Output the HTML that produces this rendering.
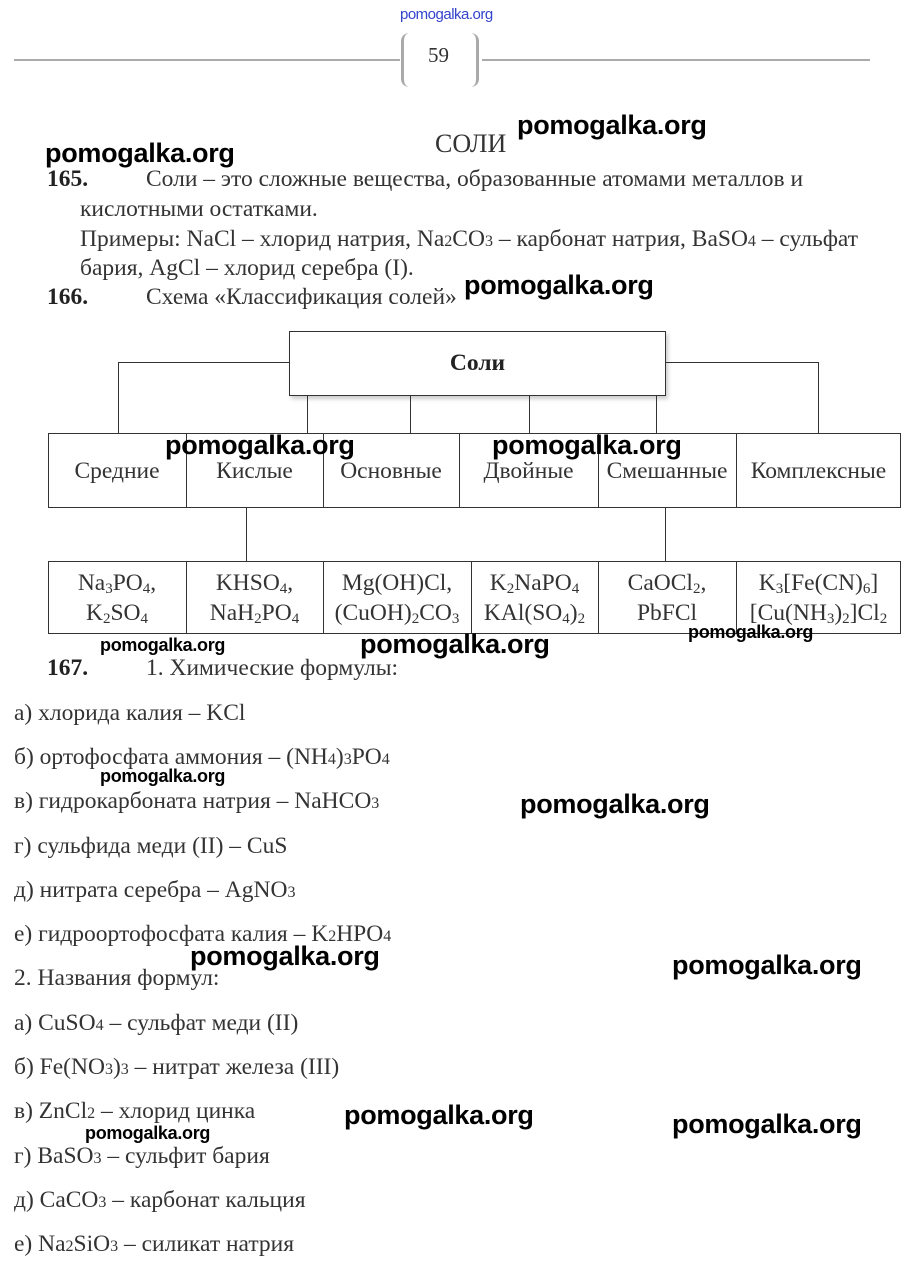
<!DOCTYPE html>
<html><head><meta charset="utf-8"><style>
body{margin:0;width:914px;height:1270px;background:#fff;position:relative;overflow:hidden;font-family:"Liberation Serif",serif;color:#333}
.t{position:absolute;white-space:nowrap;font-size:23.5px;line-height:26px}
.t s{font-size:16px;text-decoration:none}
.w{position:absolute;white-space:nowrap;font-family:"Liberation Sans",sans-serif;font-weight:bold;color:#000;font-size:27px;line-height:30px;letter-spacing:-0.3px}
.ws{font-size:18px;line-height:20px}
.b{font-weight:bold;color:#222}
.box{position:absolute;border:1px solid #333;box-sizing:border-box}
.l{position:absolute;background:#333}
.c{position:absolute;text-align:center;font-size:23.5px;line-height:30px;color:#333;white-space:nowrap}
sub{font-size:15px;vertical-align:-3px;line-height:0}
</style></head><body>
<div class="t" style="left:400px;top:2px;font-family:'Liberation Sans',sans-serif;font-size:15px;color:#3344cc;letter-spacing:-0.5px">pomogalka.org</div>
<div class="l" style="left:14px;top:59px;width:386px;height:2px;background:#aaa"></div>
<div class="l" style="left:482px;top:59px;width:388px;height:2px;background:#aaa"></div>
<div style="position:absolute;left:401px;top:33px;width:78px;height:54px;border-left:3px solid #aaa;border-right:3px solid #aaa;border-radius:8px;box-sizing:border-box"></div>
<div class="t" style="left:428px;top:42px;font-size:21px">59</div>

<div class="t" style="left:435px;top:130px;font-size:26px;line-height:28px">СОЛИ</div>
<div class="w" style="left:517px;top:110px">pomogalka.org</div>
<div class="w" style="left:45px;top:138px">pomogalka.org</div>
<div class="t b" style="left:47px;top:166px">165.</div>
<div class="t" style="left:146px;top:166px">Соли – это сложные вещества, образованные атомами металлов и</div>
<div class="t" style="left:80px;top:196px">кислотными остатками.</div>
<div class="t" style="left:80px;top:226px">Примеры: NaCl – хлорид натрия, Na<s>2</s>CO<s>3</s> – карбонат натрия, BaSO<s>4</s> – сульфат</div>
<div class="t" style="left:80px;top:255px">бария, AgCl – хлорид серебра (I).</div>
<div class="t b" style="left:47px;top:284px">166.</div>
<div class="t" style="left:146px;top:284px">Схема «Классификация солей»</div>
<div class="w" style="left:464px;top:270px">pomogalka.org</div>

<!-- diagram -->
<div class="box" style="left:289px;top:331px;width:377px;height:65px;box-shadow:2px 3px 4px #ccc"></div>
<div class="c b" style="left:289px;top:348px;width:377px;font-weight:bold;color:#222">Соли</div>
<div class="l" style="left:118px;top:362px;width:172px;height:1px"></div>
<div class="l" style="left:118px;top:362px;width:1px;height:71px"></div>
<div class="l" style="left:665px;top:362px;width:153px;height:1px"></div>
<div class="l" style="left:818px;top:362px;width:1px;height:71px"></div>
<div class="l" style="left:307px;top:395px;width:1px;height:38px"></div>
<div class="l" style="left:410px;top:395px;width:1px;height:38px"></div>
<div class="l" style="left:529px;top:395px;width:1px;height:38px"></div>
<div class="l" style="left:656px;top:395px;width:1px;height:38px"></div>

<div class="box" style="left:48px;top:433px;width:853px;height:75px"></div>
<div class="l" style="left:186px;top:433px;width:1px;height:74px"></div>
<div class="l" style="left:323px;top:433px;width:1px;height:74px"></div>
<div class="l" style="left:459px;top:433px;width:1px;height:74px"></div>
<div class="l" style="left:598px;top:433px;width:1px;height:74px"></div>
<div class="l" style="left:736px;top:433px;width:1px;height:74px"></div>
<div class="c" style="left:48px;top:456px;width:138px">Средние</div>
<div class="c" style="left:186px;top:456px;width:137px">Кислые</div>
<div class="c" style="left:323px;top:456px;width:136px">Основные</div>
<div class="c" style="left:459px;top:456px;width:139px">Двойные</div>
<div class="c" style="left:598px;top:456px;width:138px">Смешанные</div>
<div class="c" style="left:736px;top:456px;width:165px">Комплексные</div>
<div class="w" style="left:165px;top:430px">pomogalka.org</div>
<div class="w" style="left:492px;top:430px">pomogalka.org</div>

<div class="l" style="left:246px;top:507px;width:1px;height:54px"></div>
<div class="l" style="left:665px;top:507px;width:1px;height:54px"></div>

<div class="box" style="left:48px;top:561px;width:853px;height:73px"></div>
<div class="l" style="left:186px;top:561px;width:1px;height:72px"></div>
<div class="l" style="left:323px;top:561px;width:1px;height:72px"></div>
<div class="l" style="left:471px;top:561px;width:1px;height:72px"></div>
<div class="l" style="left:598px;top:561px;width:1px;height:72px"></div>
<div class="l" style="left:736px;top:561px;width:1px;height:72px"></div>
<div class="c" style="left:48px;top:568px;width:138px">Na<sub>3</sub>PO<sub>4</sub>,<br>K<sub>2</sub>SO<sub>4</sub></div>
<div class="c" style="left:186px;top:568px;width:137px">KHSO<sub>4</sub>,<br>NaH<sub>2</sub>PO<sub>4</sub></div>
<div class="c" style="left:323px;top:568px;width:148px">Mg(OH)Cl,<br>(CuOH)<sub>2</sub>CO<sub>3</sub></div>
<div class="c" style="left:471px;top:568px;width:127px">K<sub>2</sub>NaPO<sub>4</sub><br>KAl(SO<sub>4</sub>)<sub>2</sub></div>
<div class="c" style="left:598px;top:568px;width:138px">CaOCl<sub>2</sub>,<br>PbFCl</div>
<div class="c" style="left:736px;top:568px;width:165px">K<sub>3</sub>[Fe(CN)<sub>6</sub>]<br>[Cu(NH<sub>3</sub>)<sub>2</sub>]Cl<sub>2</sub></div>
<div class="w ws" style="left:100px;top:635px">pomogalka.org</div>
<div class="w" style="left:360px;top:629px">pomogalka.org</div>
<div class="w ws" style="left:688px;top:622px">pomogalka.org</div>

<div class="t b" style="left:47px;top:655px">167.</div>
<div class="t" style="left:146px;top:655px">1. Химические формулы:</div>
<div class="t" style="left:14px;top:700px">а) хлорида калия – KCl</div>
<div class="t" style="left:14px;top:744px">б) ортофосфата аммония – (NH<s>4</s>)<s>3</s>PO<s>4</s></div>
<div class="w ws" style="left:100px;top:766px">pomogalka.org</div>
<div class="t" style="left:14px;top:788px">в) гидрокарбоната натрия – NaHCO<s>3</s></div>
<div class="w" style="left:520px;top:789px">pomogalka.org</div>
<div class="t" style="left:14px;top:833px">г) сульфида меди (II) – CuS</div>
<div class="t" style="left:14px;top:877px">д) нитрата серебра – AgNO<s>3</s></div>
<div class="t" style="left:14px;top:921px">е) гидроортофосфата калия – K<s>2</s>HPO<s>4</s></div>
<div class="w" style="left:190px;top:941px">pomogalka.org</div>
<div class="t" style="left:14px;top:965px">2. Названия формул:</div>
<div class="w" style="left:672px;top:950px">pomogalka.org</div>
<div class="t" style="left:14px;top:1010px">а) CuSO<s>4</s> – сульфат меди (II)</div>
<div class="t" style="left:14px;top:1054px">б) Fe(NO<s>3</s>)<s>3</s> – нитрат железа (III)</div>
<div class="t" style="left:14px;top:1098px">в) ZnCl<s>2</s> – хлорид цинка</div>
<div class="w" style="left:344px;top:1100px">pomogalka.org</div>
<div class="w" style="left:672px;top:1109px">pomogalka.org</div>
<div class="w ws" style="left:85px;top:1123px">pomogalka.org</div>
<div class="t" style="left:14px;top:1143px">г) BaSO<s>3</s> – сульфит бария</div>
<div class="t" style="left:14px;top:1187px">д) CaCO<s>3</s> – карбонат кальция</div>
<div class="t" style="left:14px;top:1231px">е) Na<s>2</s>SiO<s>3</s> – силикат натрия</div>
</body></html>
